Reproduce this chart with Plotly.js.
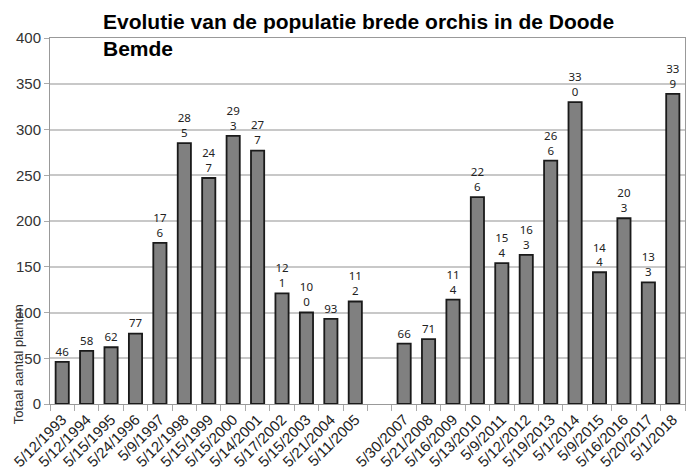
<!DOCTYPE html>
<html>
<head>
<meta charset="utf-8">
<script src="https://cdn.plot.ly/plotly-3.0.1.min.js"></script>
<style>html,body{margin:0;padding:0;background:#fff;}#chart{width:692px;height:468px;}</style>
</head>
<body>
<div id="chart"></div>
<script>
var dates = ["5/12/1993","5/12/1994","5/15/1995","5/24/1996","5/9/1997","5/12/1998","5/15/1999","5/15/2000","5/14/2001","5/17/2002","5/15/2003","5/21/2004","5/11/2005"," ","5/30/2007","5/21/2008","5/16/2009","5/13/2010","5/9/2011","5/12/2012","5/19/2013","5/1/2014","5/9/2015","5/16/2016","5/20/2017","5/1/2018"];
var planten = [46,58,62,77,176,285,247,293,277,121,100,93,112,null,66,71,114,226,154,163,266,330,144,203,133,339];
var yTicks = [0,50,100,150,200,250,300,350,400];

var labels = planten.map(function(v){
  if (v === null) return "";
  var s = String(v);
  return s.length > 2 ? s.slice(0, 2) + "<br>" + s.slice(2) : s;
});

var trace = {
  type: "bar",
  x: dates,
  y: planten,
  text: labels,
  textposition: "outside",
  cliponaxis: false,
  textfont: {family: "Noto Sans, Open Sans, sans-serif", size: 15, color: "#222"},
  marker: {color: "#808080", line: {color: "#1a1a1a", width: 1.8}},
  hoverinfo: "x+y"
};

var layout = {
  width: 692, height: 468,
  margin: {l: 50, r: 7, t: 38, b: 64},
  paper_bgcolor: "#fff", plot_bgcolor: "#fff",
  bargap: 0.46,
  showlegend: false,
  xaxis: {
    type: "category",
    categoryorder: "array",
    categoryarray: dates,
    tickangle: -45,
    ticks: "outside", ticklen: 6, tickcolor: "#aaa", tickson: "boundaries",
    showline: true, linecolor: "#999", linewidth: 1, mirror: true,
    showgrid: false,
    tickfont: {family: "Liberation Sans, Arial, sans-serif", size: 15, color: "#222"},
    fixedrange: true
  },
  yaxis: {
    range: [0, 400],
    tickvals: yTicks,
    ticks: "outside", ticklen: 5, tickcolor: "#aaa",
    showline: true, linecolor: "#999", linewidth: 1, mirror: true,
    showgrid: true, gridcolor: "#c8c8c8", gridwidth: 1.5,
    zeroline: false,
    tickfont: {family: "Liberation Sans, Arial, sans-serif", size: 15, color: "#333"},
    fixedrange: true
  },
  annotations: [{
    text: "<b>Evolutie van de populatie brede orchis in de Doode<br>Bemde</b>",
    xref: "paper", yref: "paper",
    x: 0.08, y: 1.082,
    xanchor: "left", yanchor: "top", align: "left",
    showarrow: false,
    font: {family: "Liberation Sans, Arial, sans-serif", size: 21, color: "#000"}
  }, {
    text: "Totaal aantal planten",
    textangle: -90,
    xref: "paper", yref: "paper",
    x: -0.05, y: 0.109,
    xanchor: "center", yanchor: "middle",
    showarrow: false,
    font: {family: "Liberation Sans Narrow, Liberation Sans, Arial, sans-serif", size: 13, color: "#333"}
  }]
};

Plotly.newPlot("chart", [trace], layout, {displayModeBar: false});
</script>
</body>
</html>
